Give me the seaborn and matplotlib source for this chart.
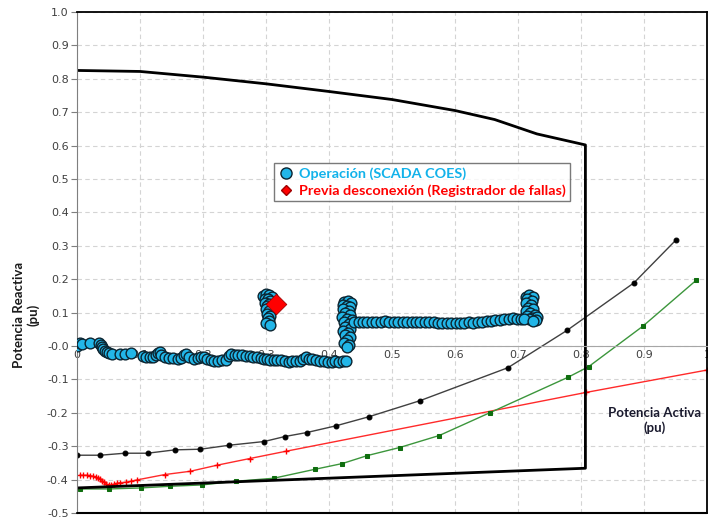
import numpy as np
import pandas as pd
import seaborn as sns
import matplotlib.pyplot as plt
from matplotlib.lines import Line2D

# capability curve (thick black)
cap_p = [0.0, 0.1, 0.2, 0.3, 0.4, 0.5, 0.6, 0.663, 0.73, 0.807, 0.807, 0.0]
cap_q = [0.825, 0.822, 0.805, 0.785, 0.762, 0.738, 0.705, 0.678, 0.635, 0.602, -0.366, -0.425]

# thin curves with markers
blk_p = [0.0, 0.037, 0.076, 0.112, 0.155, 0.196, 0.242, 0.297, 0.330, 0.365, 0.411, 0.463, 0.544, 0.684, 0.778, 0.884, 0.950]
blk_q = [-0.327, -0.327, -0.321, -0.321, -0.311, -0.309, -0.297, -0.286, -0.271, -0.259, -0.239, -0.212, -0.164, -0.065, 0.047, 0.189, 0.316]

red_p = [0.004, 0.010, 0.016, 0.021, 0.026, 0.030, 0.034, 0.037, 0.040, 0.043, 0.046, 0.050, 0.054,
         0.058, 0.063, 0.069, 0.077, 0.085, 0.095, 0.139, 0.180, 0.222, 0.274, 0.332, 0.808, 1.0]
red_q = [-0.387, -0.387, -0.387, -0.388, -0.390, -0.392, -0.395, -0.399, -0.403, -0.408, -0.412, -0.416, -0.416,
         -0.414, -0.411, -0.409, -0.408, -0.405, -0.401, -0.385, -0.375, -0.357, -0.337, -0.315, -0.139, -0.072]

grn_p = [0.004, 0.051, 0.101, 0.147, 0.198, 0.252, 0.312, 0.378, 0.421, 0.461, 0.512, 0.575, 0.655, 0.779, 0.812, 0.898, 0.983]
grn_q = [-0.428, -0.428, -0.425, -0.420, -0.416, -0.405, -0.396, -0.369, -0.352, -0.328, -0.304, -0.268, -0.200, -0.094, -0.062, 0.059, 0.197]

# operation points (SCADA COES)
low_p = [0.000, 0.004, 0.008, 0.021, 0.035, 0.038, 0.040, 0.042, 0.044, 0.047, 0.050, 0.055, 0.068, 0.076, 0.085,
         0.104, 0.110, 0.116, 0.121, 0.125, 0.128, 0.131, 0.134, 0.139, 0.146, 0.153, 0.160, 0.165, 0.170, 0.173,
         0.177, 0.185, 0.192, 0.197, 0.201, 0.206, 0.212, 0.218, 0.224, 0.230, 0.236, 0.241, 0.245, 0.250, 0.256,
         0.262, 0.268, 0.274, 0.280, 0.286, 0.292, 0.297, 0.302, 0.306, 0.312, 0.318, 0.324, 0.330, 0.336, 0.342,
         0.348, 0.354, 0.359, 0.364, 0.368, 0.373, 0.379, 0.386, 0.392, 0.398, 0.404, 0.410, 0.416, 0.422, 0.427]
low_q = [0.000, 0.008, 0.006, 0.010, 0.008, 0.004, -0.002, -0.009, -0.014, -0.019, -0.022, -0.023, -0.024, -0.024, -0.022,
         -0.030, -0.032, -0.034, -0.033, -0.028, -0.021, -0.019, -0.026, -0.034, -0.036, -0.037, -0.038, -0.036, -0.026, -0.024,
         -0.032, -0.040, -0.037, -0.033, -0.034, -0.039, -0.043, -0.044, -0.044, -0.043, -0.042, -0.030, -0.024, -0.026, -0.027,
         -0.028, -0.029, -0.031, -0.033, -0.034, -0.037, -0.039, -0.040, -0.042, -0.041, -0.043, -0.042, -0.045, -0.047, -0.046,
         -0.045, -0.044, -0.040, -0.034, -0.038, -0.040, -0.043, -0.044, -0.046, -0.047, -0.047, -0.046, -0.047, -0.046, -0.044]

c30_p = [0.296, 0.300, 0.305, 0.309, 0.298, 0.303, 0.307, 0.299, 0.304, 0.301, 0.306, 0.300, 0.305, 0.302, 0.306, 0.303, 0.305, 0.300, 0.306]
c30_q = [0.150, 0.155, 0.152, 0.146, 0.142, 0.140, 0.136, 0.130, 0.127, 0.120, 0.116, 0.110, 0.104, 0.097, 0.090, 0.084, 0.076, 0.070, 0.063]

c43_p = [0.424, 0.430, 0.435, 0.422, 0.428, 0.434, 0.423, 0.431, 0.426, 0.433, 0.421, 0.429, 0.436, 0.424, 0.431,
         0.426, 0.434, 0.422, 0.430, 0.425, 0.433, 0.428, 0.424, 0.431, 0.429]
c43_q = [0.133, 0.135, 0.130, 0.124, 0.120, 0.116, 0.110, 0.106, 0.098, 0.094, 0.088, 0.082, 0.078, 0.072, 0.066,
         0.058, 0.052, 0.046, 0.040, 0.032, 0.026, 0.018, 0.010, 0.004, -0.004]

up_p = [0.440, 0.447, 0.454, 0.461, 0.468, 0.475, 0.482, 0.489, 0.496, 0.503, 0.510, 0.517, 0.524, 0.531, 0.538,
        0.545, 0.552, 0.559, 0.566, 0.573, 0.580, 0.587, 0.594, 0.601, 0.608, 0.615, 0.622, 0.629, 0.636, 0.643,
        0.650, 0.657, 0.664, 0.671, 0.678, 0.685, 0.692, 0.699, 0.705]
up_q = [0.072, 0.073, 0.072, 0.073, 0.072, 0.073, 0.072, 0.074, 0.073, 0.072, 0.073, 0.072, 0.073, 0.071, 0.073,
        0.072, 0.072, 0.073, 0.071, 0.070, 0.069, 0.070, 0.069, 0.069, 0.070, 0.069, 0.071, 0.070, 0.072, 0.072,
        0.074, 0.075, 0.077, 0.079, 0.081, 0.082, 0.083, 0.082, 0.080]

c72_p = [0.712, 0.718, 0.724, 0.715, 0.722, 0.713, 0.720, 0.716, 0.724, 0.712, 0.719, 0.727, 0.715, 0.722, 0.730, 0.718, 0.728, 0.710, 0.724]
c72_q = [0.148, 0.153, 0.147, 0.140, 0.135, 0.128, 0.122, 0.115, 0.110, 0.104, 0.099, 0.094, 0.089, 0.085, 0.088, 0.080, 0.078, 0.082, 0.074]

# fault recorder point
falla_p = [0.316]
falla_q = [0.125]

op = pd.DataFrame({"P": low_p + c30_p + c43_p + up_p + c72_p,
                   "Q": low_q + c30_q + c43_q + up_q + c72_q})

sns.set_style("white")
plt.rcParams['font.family'] = ['DejaVu Sans']

fig = plt.figure(figsize=(7.08, 5.18), dpi=100)
ax = fig.add_axes([77/708, 5/518, 630/708, 501/518])

ax.set_xlim(0, 1)
ax.set_ylim(-0.5, 1.0)
ax.set_xticks(np.arange(0, 1.01, 0.1))
ax.set_yticks(np.arange(-0.5, 1.01, 0.1))
ax.set_xticklabels(["0", "0.1", "0.2", "0.3", "0.4", "0.5", "0.6", "0.7", "0.8", "0.9", "1"])
ax.set_yticklabels([f"{v:.1f}" for v in np.arange(-0.5, 1.01, 0.1)])
ax.grid(True, color="#d4d4d4", linestyle=(0, (4, 3)), linewidth=0.8)
ax.set_axisbelow(True)

sns.lineplot(x=blk_p, y=blk_q, ax=ax, sort=False, estimator=None, color="#404040", lw=1,
             marker="o", markersize=3.5, markeredgecolor="black", markerfacecolor="black", legend=False)
sns.lineplot(x=red_p, y=red_q, ax=ax, sort=False, estimator=None, color="#ff2a2a", lw=1,
             marker="+", markersize=5, markeredgewidth=1, markeredgecolor="#ff0000", legend=False)
sns.lineplot(x=grn_p, y=grn_q, ax=ax, sort=False, estimator=None, color="#3c963c", lw=1,
             marker="s", markersize=3.5, markeredgecolor="#0f6e0f", markerfacecolor="#0f6e0f", legend=False)
sns.lineplot(x=cap_p, y=cap_q, ax=ax, sort=False, estimator=None, color="black", lw=2, legend=False)

sns.scatterplot(data=op, x="P", y="Q", ax=ax, s=60, color="#22b6e8", edgecolor="#0c2430",
                linewidth=1.0, zorder=5, legend=False)
sns.scatterplot(x=falla_p, y=falla_q, ax=ax, s=110, marker="D", color="#ff0000", edgecolor="#a00000",
                linewidth=0.6, zorder=6, legend=False)

# axes crossing at zero
ax.spines['bottom'].set_position(('data', 0))
ax.spines['bottom'].set_color("#a6a6a6")
ax.spines['left'].set_color("#7f7f7f")
for s in ['top', 'right']:
    ax.spines[s].set_color("black")
    ax.spines[s].set_linewidth(1.3)
ax.axhline(-0.5, color="black", lw=1.5, clip_on=False, zorder=7)
ax.tick_params(axis='x', length=0, pad=3, labelsize=8, labelcolor="#404040")
ax.tick_params(axis='y', left=True, length=4, color="#7f7f7f", pad=2, labelsize=8, labelcolor="#404040")

ax.set_xlabel("")
ax.set_ylabel("Potencia Reactiva\n(pu)", fontsize=9.5, fontweight="bold", family=["Lato", "DejaVu Sans"],
              linespacing=1.1, color="#1a1a1a")
ax.yaxis.set_label_coords(-0.060, 0.395)
ax.text(0.917, -0.222, "Potencia Activa\n(pu)", ha="center", va="center", fontsize=9.5, fontweight="bold",
        family=["Lato", "DejaVu Sans"], color="#1a1a2e", linespacing=1.2)

handles = [Line2D([], [], marker="o", ls="", markersize=8, markerfacecolor="#22b6e8", markeredgecolor="#0c2430"),
           Line2D([], [], marker="D", ls="", markersize=5.5, markerfacecolor="#ff0000", markeredgecolor="#a00000")]
leg = ax.legend(handles, ["Operación (SCADA COES)", "Previa desconexión (Registrador de fallas)"],
                loc="upper left", bbox_to_anchor=(0.3127, 0.699), frameon=True, fancybox=False,
                edgecolor="#595959", handletextpad=0.45, handlelength=1.0, borderpad=0.3, labelspacing=0.3,
                borderaxespad=0, prop={"family": ["Lato", "DejaVu Sans"], "weight": "bold", "size": 10.4})
leg.get_frame().set_linewidth(1.0)
leg.set_zorder(10)
leg.get_texts()[0].set_color("#12b2ea")
leg.get_texts()[1].set_color("#ff0000")

fig.savefig("out.png", dpi=100)
